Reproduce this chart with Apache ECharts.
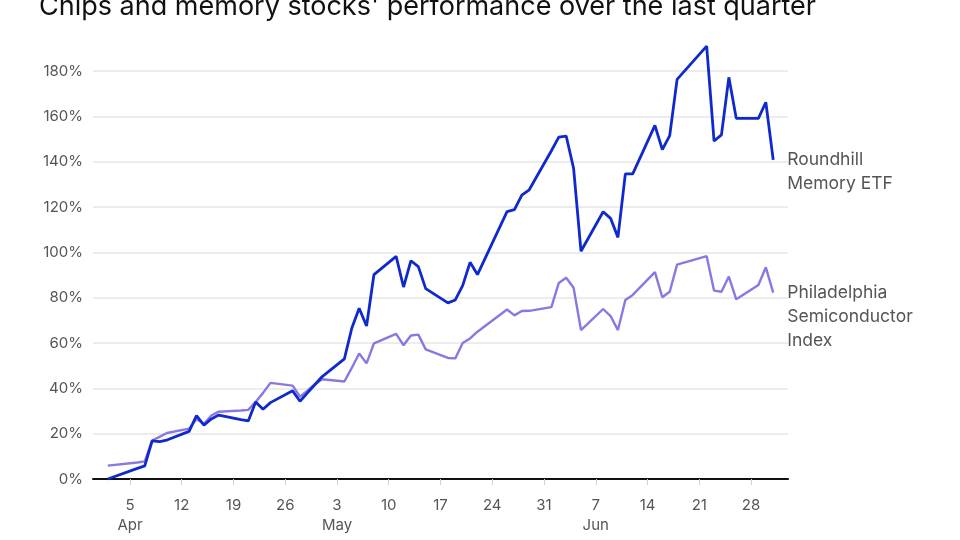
<!DOCTYPE html>
<html>
<head>
<meta charset="utf-8">
<script src="https://cdn.jsdelivr.net/npm/echarts@6/dist/echarts.min.js"></script>
<style>html,body{margin:0;padding:0;background:#fff}#c{width:960px;height:540px}</style>
</head>
<body>
<div id="c"></div>
<script>
const titleText = "Chips and memory stocks' performance over the last quarter";
const seriesNames = ['Roundhill\nMemory ETF', 'Philadelphia\nSemiconductor\nIndex'];
const dates = [
  '2026-04-02','2026-04-06','2026-04-07','2026-04-08','2026-04-09','2026-04-10',
  '2026-04-13','2026-04-14','2026-04-15','2026-04-16','2026-04-17',
  '2026-04-20','2026-04-21','2026-04-22','2026-04-23','2026-04-24',
  '2026-04-27','2026-04-28','2026-04-29','2026-04-30','2026-05-01',
  '2026-05-04','2026-05-05','2026-05-06','2026-05-07','2026-05-08',
  '2026-05-11','2026-05-12','2026-05-13','2026-05-14','2026-05-15',
  '2026-05-18','2026-05-19','2026-05-20','2026-05-21','2026-05-22',
  '2026-05-26','2026-05-27','2026-05-28','2026-05-29',
  '2026-06-01','2026-06-02','2026-06-03','2026-06-04','2026-06-05',
  '2026-06-08','2026-06-09','2026-06-10','2026-06-11','2026-06-12',
  '2026-06-15','2026-06-16','2026-06-17','2026-06-18',
  '2026-06-22','2026-06-23','2026-06-24','2026-06-25','2026-06-26',
  '2026-06-29','2026-06-30','2026-07-01'
];
const roundhill = [
  0, 4.7, 5.8, 16.8, 16.5, 17.2,
  21, 28, 23.8, 26.5, 28.2,
  26.2, 25.6, 34, 30.8, 33.7,
  38.9, 34.3, 38, 41.6, 45.2,
  53, 66.5, 75.3, 67.5, 90.2,
  98.2, 84.7, 96.3, 93.7, 84,
  77.7, 79, 85.3, 95.6, 90.2,
  118, 118.8, 125.2, 127.6,
  144.8, 150.8, 151.3, 137.1, 100.5,
  117.9, 115, 106.6, 134.6, 134.6,
  156, 145.3, 151.5, 176.3,
  191, 149.1, 151.8, 177.2, 159.1,
  159.1, 166.2, 140.8
];
const sox = [
  5.9, 7.3, 7.8, 17, 18.6, 20.3,
  22.2, 26.5, 24.3, 28, 29.7,
  30.2, 30.5, 34, 38, 42.4,
  41.2, 36.3, 39, 41.8, 44,
  43, 49, 55.4, 51, 59.8,
  64, 59, 63.3, 63.7, 57.2,
  53.4, 53.2, 60, 62, 65,
  74.8, 72.2, 74.1, 74.2,
  75.8, 86.5, 88.8, 84.4, 65.7,
  75, 71.9, 65.7, 79, 81.2,
  91.3, 80.2, 82.6, 94.6,
  98.3, 83.1, 82.6, 89.3, 79.3,
  85.6, 93.4, 82.2
];
const tickDates = ['2026-04-05','2026-04-12','2026-04-19','2026-04-26','2026-05-03','2026-05-10',
  '2026-05-17','2026-05-24','2026-05-31','2026-06-07','2026-06-14','2026-06-21','2026-06-28'];
const monthNames = ['Jan','Feb','Mar','Apr','May','Jun','Jul','Aug','Sep','Oct','Nov','Dec'];

const EPOCH = Date.UTC(2026, 2, 31);
function dayIndex(s) {
  const p = s.split('-').map(Number);
  return (Date.UTC(p[0], p[1] - 1, p[2]) - EPOCH) / 864e5;
}
const tickVals = tickDates.map(dayIndex);
const FONT = 'Inter, "Noto Sans", sans-serif';

const chart = echarts.init(document.getElementById('c'), null, {renderer: 'canvas'});
chart.setOption({
  animation: false,
  backgroundColor: '#fff',
  title: {
    text: titleText,
    left: 34, top: -12,
    textStyle: {fontFamily: FONT, fontSize: 27, fontWeight: 'normal', color: '#111'}
  },
  grid: {left: 93, right: 172, top: 71, bottom: 61, containLabel: false},
  xAxis: {
    type: 'value', min: 0, max: 94,
    axisLine: {show: true, onZero: true, lineStyle: {color: '#111', width: 2}},
    axisTick: {show: true, customValues: tickVals, length: 6, lineStyle: {color: '#d0d0d0', width: 1}},
    axisLabel: {
      customValues: tickVals, margin: 16, color: '#555', fontFamily: FONT, fontSize: 15, lineHeight: 20,
      formatter: function (v) {
        const d = new Date(EPOCH + v * 864e5);
        const day = d.getUTCDate();
        return day <= 7 ? day + '\n' + monthNames[d.getUTCMonth()] : String(day);
      }
    },
    splitLine: {show: false}
  },
  yAxis: {
    type: 'value', min: 0, max: 180, interval: 20,
    axisLine: {show: false}, axisTick: {show: false},
    axisLabel: {formatter: '{value}%', color: '#555', fontFamily: FONT, fontSize: 15, margin: 10},
    splitLine: {show: true, lineStyle: {color: '#e6e6e6', width: 1.5}}
  },
  series: [
    {
      name: 'Roundhill Memory ETF', type: 'line', clip: false, symbol: 'none',
      data: dates.map((d, i) => [dayIndex(d), roundhill[i]]),
      lineStyle: {color: '#1029cc', width: 2.8},
      itemStyle: {color: '#1029cc'},
      z: 3,
      endLabel: {
        show: true, formatter: seriesNames[0], color: '#555', fontFamily: FONT, fontSize: 17.5,
        lineHeight: 24, align: 'left', verticalAlign: 'top', distance: 14, offset: [0, -12]
      }
    },
    {
      name: 'Philadelphia Semiconductor Index', type: 'line', clip: false, symbol: 'none',
      data: dates.map((d, i) => [dayIndex(d), sox[i]]),
      lineStyle: {color: '#8a78e2', width: 2.4},
      itemStyle: {color: '#8a78e2'},
      z: 2,
      endLabel: {
        show: true, formatter: seriesNames[1], color: '#555', fontFamily: FONT, fontSize: 17.5,
        lineHeight: 24, align: 'left', verticalAlign: 'top', distance: 14, offset: [0, -12]
      }
    }
  ]
});
</script>
</body>
</html>
